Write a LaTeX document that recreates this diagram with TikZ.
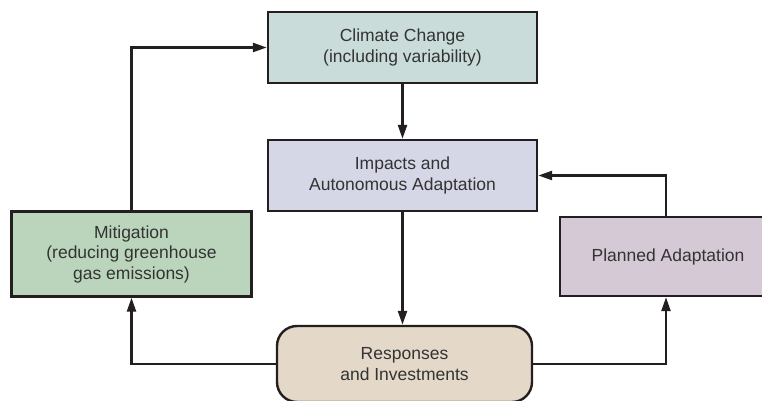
\documentclass[tikz,border=0pt]{standalone}
\usepackage{fontspec}
\setmainfont{Liberation Sans}
\usepackage{tikz}
\usetikzlibrary{arrows.meta,calc,positioning}
\definecolor{climfill}{HTML}{C9DCD9}
\definecolor{impfill}{HTML}{D5D6E6}
\definecolor{mitfill}{HTML}{BBD5BC}
\definecolor{planfill}{HTML}{D4C9D4}
\definecolor{respfill}{HTML}{E4D9C8}
\definecolor{edgegray}{HTML}{231F20}
\definecolor{txtgray}{HTML}{333333}
\tikzset{
    mybox/.style={draw=edgegray,line width=2.4pt,align=center,inner sep=0pt,text=txtgray,
      font=\fontsize{17.5}{20.5}\selectfont},
    myround/.style={mybox,rounded corners=20pt},
    myarrow/.style={line width=2.4pt,draw=edgegray,-{Triangle[length=14pt,width=9pt]}}
}
\begin{document}
\begin{tikzpicture}[x=1pt,y=-1pt]
  \useasboundingbox (0,0) rectangle (762,401);
  \clip (0,0) rectangle (762,401);

  \node[mybox,fill=climfill,minimum width=269pt,minimum height=71pt] (climate) at (402.5,47.5)
    {Climate Change\\(including variability)};
  \node[mybox,fill=impfill,minimum width=269pt,minimum height=71pt] (impacts) at (402.5,175.5)
    {Impacts and\\Autonomous Adaptation};
  \node[mybox,fill=mitfill,minimum width=240pt,minimum height=85pt] (mitig) at (131.5,254)
    {Mitigation\\(reducing greenhouse\\gas emissions)};
  \node[mybox,fill=planfill,minimum width=212pt,minimum height=79pt] (planned) at (666,256.5)
    {\hspace*{4pt}Planned Adaptation};
  \node[myround,fill=respfill,minimum width=255pt,minimum height=76pt] (resp) at (404.5,364)
    {Responses\\and Investments};

  \draw[myarrow] (climate.south) -- (impacts.north);
  \draw[myarrow] (impacts.south) -- (impacts.south |- resp.north);
  \draw[myarrow] (resp.west) -| (mitig.south);
  \draw[myarrow] (mitig.north) |- (climate.west);
  \draw[myarrow] (resp.east) -| (planned.south);
  \draw[myarrow] (planned.north) |- (impacts.east);
\end{tikzpicture}
\end{document}
